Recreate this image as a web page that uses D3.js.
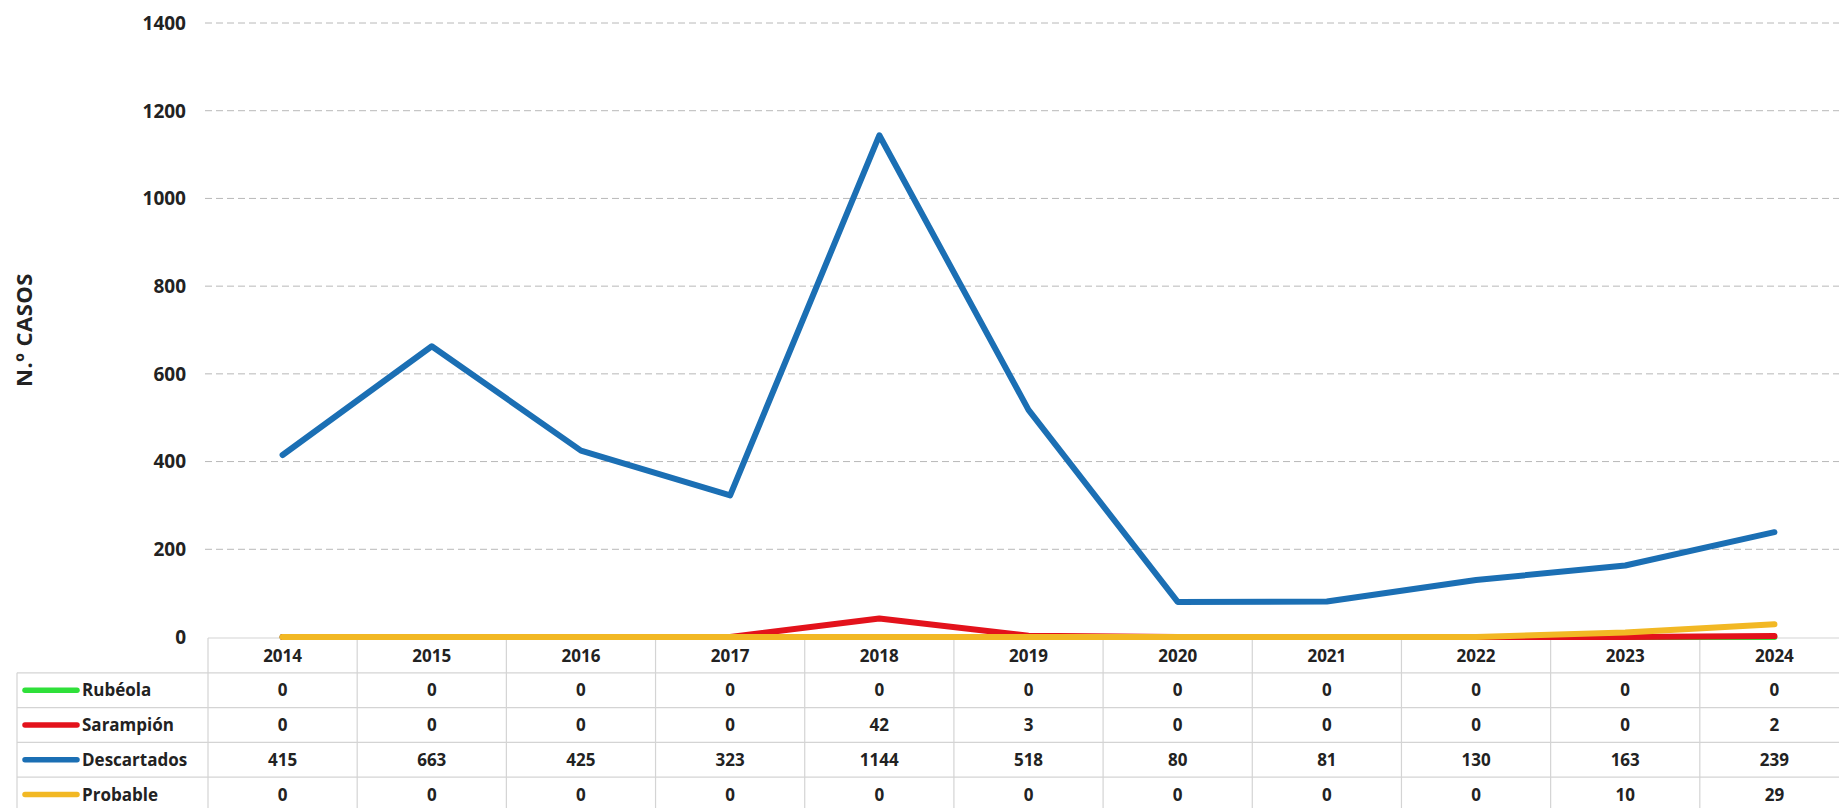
<!DOCTYPE html>
<html>
<head>
<meta charset="utf-8">
<script src="https://cdn.jsdelivr.net/npm/d3@7"></script>
<style>
  html, body { margin: 0; padding: 0; background: #fff; overflow: hidden; }
  svg { display: block; font-family: "Open Sans", "Noto Sans", sans-serif; }
</style>
</head>
<body>
<svg id="chart" width="1839" height="808"></svg>
<script>
// data
var years = ["2014", "2015", "2016", "2017", "2018", "2019", "2020", "2021", "2022", "2023", "2024"];
var rubeola = [0, 0, 0, 0, 0, 0, 0, 0, 0, 0, 0];
var sarampion = [0, 0, 0, 0, 42, 3, 0, 0, 0, 0, 2];
var descartados = [415, 663, 425, 323, 1144, 518, 80, 81, 130, 163, 239];
var probable = [0, 0, 0, 0, 0, 0, 0, 0, 0, 10, 29];
var seriesNames = ["Rubéola", "Sarampión", "Descartados", "Probable"];
var seriesColors = ["#2fe03a", "#e3121b", "#1b6fb4", "#f2b824"];
var yTicks = [0, 200, 400, 600, 800, 1000, 1200, 1400];

var series = [rubeola, sarampion, descartados, probable];

var svg = d3.select("#chart");

var plotLeft = 208, plotRight = 1849, plotTop = 23, plotBottom = 637;
var x = d3.scaleBand().domain(years).range([plotLeft, plotRight]).padding(0);
var y = d3.scaleLinear().domain([0, 1400]).range([plotBottom, plotTop]);

// grid lines
svg.append("g")
    .selectAll("line")
    .data(yTicks.filter(function (d) { return d > 0; }))
    .enter()
    .append("line")
    .attr("x1", plotLeft - 3)
    .attr("x2", 1839)
    .attr("y1", function (d) { return y(d); })
    .attr("y2", function (d) { return y(d); })
    .attr("stroke", "#b8b8b8")
    .attr("stroke-width", 1)
    .attr("stroke-dasharray", "7,4");

// y tick labels
svg.append("g")
    .selectAll("text")
    .data(yTicks)
    .enter()
    .append("text")
    .attr("x", 186)
    .attr("y", function (d) { return y(d); })
    .attr("dy", "0.36em")
    .attr("text-anchor", "end")
    .attr("font-size", 19)
    .attr("font-weight", "bold")
    .attr("fill", "#222")
    .text(function (d) { return d; });

// y axis title
svg.append("text")
    .attr("transform", "translate(32,330) rotate(-90)")
    .attr("text-anchor", "middle")
    .attr("font-size", 22)
    .attr("font-weight", "bold")
    .attr("letter-spacing", 0.5)
    .attr("fill", "#222")
    .text("N.º CASOS");

// data table
var rowH = 34.8;
var tableTop = 638;
var legendLeft = 17;
var grid = "#d4d4d4";
var table = svg.append("g");

// horizontal lines
table.append("line")
    .attr("x1", plotLeft).attr("x2", 1839)
    .attr("y1", tableTop).attr("y2", tableTop)
    .attr("stroke", grid).attr("stroke-width", 1.2);
for (var r = 1; r <= 5; r++) {
    table.append("line")
        .attr("x1", legendLeft).attr("x2", 1839)
        .attr("y1", tableTop + r * rowH).attr("y2", tableTop + r * rowH)
        .attr("stroke", grid).attr("stroke-width", 1.2);
}
// vertical lines
table.selectAll("line.col")
    .data(years.concat(["end"]))
    .enter()
    .append("line")
    .attr("class", "col")
    .attr("x1", function (d, i) { return plotLeft + i * x.bandwidth(); })
    .attr("x2", function (d, i) { return plotLeft + i * x.bandwidth(); })
    .attr("y1", tableTop)
    .attr("y2", 808)
    .attr("stroke", grid).attr("stroke-width", 1.2);
table.append("line")
    .attr("x1", legendLeft).attr("x2", legendLeft)
    .attr("y1", tableTop + rowH).attr("y2", 808)
    .attr("stroke", grid).attr("stroke-width", 1.2);

// header years
table.selectAll("text.year")
    .data(years)
    .enter()
    .append("text")
    .attr("class", "year")
    .attr("x", function (d) { return x(d) + x.bandwidth() / 2; })
    .attr("y", tableTop + rowH / 2)
    .attr("dy", "0.36em")
    .attr("text-anchor", "middle")
    .attr("font-size", 17)
    .attr("font-weight", "bold")
    .attr("fill", "#222")
    .text(function (d) { return d; });

// legend column + values
series.forEach(function (vals, si) {
    var cy = tableTop + (si + 1.5) * rowH;
    table.append("line")
        .attr("x1", 25).attr("x2", 77)
        .attr("y1", cy).attr("y2", cy)
        .attr("stroke", seriesColors[si])
        .attr("stroke-width", 5.5)
        .attr("stroke-linecap", "round");
    table.append("text")
        .attr("x", 82)
        .attr("y", cy)
        .attr("dy", "0.36em")
        .attr("font-size", 17)
        .attr("font-weight", "bold")
        .attr("fill", "#222")
        .text(seriesNames[si]);
    table.selectAll("text.v" + si)
        .data(vals)
        .enter()
        .append("text")
        .attr("class", "v" + si)
        .attr("x", function (d, i) { return x(years[i]) + x.bandwidth() / 2; })
        .attr("y", cy)
        .attr("dy", "0.36em")
        .attr("text-anchor", "middle")
        .attr("font-size", 17)
        .attr("font-weight", "bold")
        .attr("fill", "#222")
        .text(function (d) { return d; });
});

// lines
var line = d3.line()
    .x(function (d, i) { return x(years[i]) + x.bandwidth() / 2; })
    .y(function (d) { return y(d); });

svg.append("g")
    .selectAll("path")
    .data(series)
    .enter()
    .append("path")
    .attr("d", line)
    .attr("fill", "none")
    .attr("stroke", function (d, i) { return seriesColors[i]; })
    .attr("stroke-width", 6)
    .attr("stroke-linejoin", "round")
    .attr("stroke-linecap", "round");
</script>
</body>
</html>
